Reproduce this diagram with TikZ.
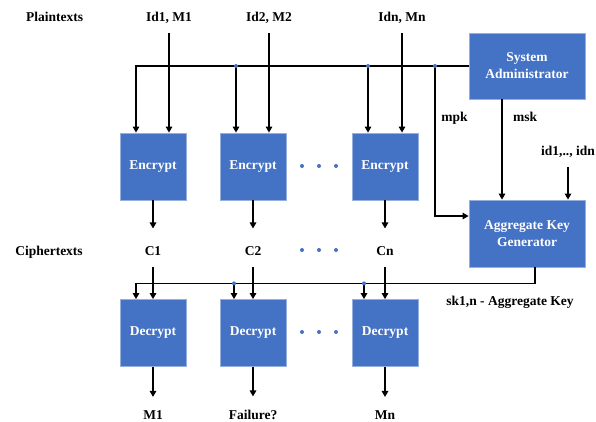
\documentclass[tikz,border=0pt]{standalone}
\usepackage{fontspec}
\setmainfont{Liberation Serif}
\usetikzlibrary{arrows.meta}
\definecolor{boxblue}{RGB}{68,114,196}
\definecolor{boxedge}{RGB}{150,176,222}
\tikzset{
  blk/.style={fill=boxblue, draw=boxedge, line width=0.8pt, text=white,
    font=\bfseries\fontsize{13.5}{17}\selectfont, align=center,
    minimum width=66pt, minimum height=67pt, inner sep=0pt},
  wblk/.style={blk, minimum width=116pt},
  lbl/.style={font=\bfseries\fontsize{13.5}{17}\selectfont, inner sep=0pt, anchor=base},
  arr/.style={line width=1.4pt, -{Triangle[length=6pt,width=6.5pt]}},
  jdot/.style={fill=boxblue, draw=none},
}
\begin{document}
\begin{tikzpicture}[x=1pt,y=-1pt]
\useasboundingbox (0,0) rectangle (596,421);

% boxes
\node[blk] (E1) at (153,166.5) {Encrypt};
\node[blk] (E2) at (253,166.5) {Encrypt};
\node[blk] (E3) at (385,166.5) {Encrypt};
\node[blk] (D1) at (153,333) {Decrypt};
\node[blk] (D2) at (253,333) {Decrypt};
\node[blk] (D3) at (385,333) {Decrypt};
\node[wblk, minimum height=66pt] (SA) at (527,66) {System\\Administrator};
\node[wblk] (AKG) at (527,233.5) {Aggregate Key\\Generator};

% labels
\node[lbl] (pt) at (54.5,21.5) {Plaintexts};
\node[lbl] (in1) at (169,21.5) {Id1, M1};
\node[lbl] (in2) at (269,21.5) {Id2, M2};
\node[lbl] (in3) at (402,21.5) {Idn, Mn};
\node[lbl] (ct) at (49,255) {Ciphertexts};
\node[lbl] (C1) at (153,255) {C1};
\node[lbl] (C2) at (253,255) {C2};
\node[lbl] (C3) at (385,255) {Cn};
\node[lbl] (mpk) at (454.5,121) {mpk};
\node[lbl] (msk) at (525,121) {msk};
\node[lbl] (idl) at (568,155.5) {id1,.., idn};
\node[lbl] (skl) at (510,305.5) {sk1,n - Aggregate Key};
\node[lbl] (o1) at (153,419) {M1};
\node[lbl] (o2) at (253,419) {Failure?};
\node[lbl] (o3) at (385,419) {Mn};

% junctions
\coordinate (j2) at ([xshift=-17pt]E2.north |- SA.west);
\coordinate (j3) at ([xshift=-17pt]E3.north |- SA.west);
\coordinate (jm) at (435,66);
\coordinate (kbus) at ([xshift=8pt,yshift=-16pt]AKG.south);
\coordinate (k2) at ([xshift=-19pt]D2.north |- kbus);
\coordinate (k3) at ([xshift=-21pt]D3.north |- kbus);

% top bus
\draw[arr] (SA.west) -| ([xshift=-17pt]E1.north);
\draw[arr] (j2) -- ([xshift=-17pt]E2.north);
\draw[arr] (j3) -- ([xshift=-17pt]E3.north);
\draw[arr] ([yshift=-9.5pt]in1.south) -- (in1.south |- E1.north);
\draw[arr] ([yshift=-9.5pt]in2.south) -- (in2.south |- E2.north);
\draw[arr] ([yshift=-9.5pt]in3.south) -- (in3.south |- E3.north);

% keys
\draw[arr] (jm) |- ([yshift=17.5pt]AKG.west);
\draw[arr] ([xshift=-25pt]SA.south) -- ([xshift=-25pt]AKG.north);
\draw[arr] ([yshift=-9pt]idl.south) -- (idl.south |- AKG.north);

% encrypt -> ciphertexts
\draw[arr] (E1.south) -- ([yshift=17.4pt]C1.north);
\draw[arr] (E2.south) -- ([yshift=17.4pt]C2.north);
\draw[arr] (E3.south) -- ([yshift=17.4pt]C3.north);

% ciphertexts -> decrypt
\draw[arr] ([yshift=-12pt]C1.south) -- (D1.north);
\draw[arr] ([yshift=-12pt]C2.south) -- (D2.north);
\draw[arr] ([yshift=-12pt]C3.south) -- (D3.north);

% aggregate key bus
\draw[arr] ([xshift=8pt]AKG.south) -- (kbus) -| ([xshift=-17pt]D1.north);
\draw[arr] (k2) -- ([xshift=-19pt]D2.north);
\draw[arr] (k3) -- ([xshift=-21pt]D3.north);

% decrypt -> outputs
\draw[arr] (D1.south) -- ([yshift=13pt]o1.north);
\draw[arr] (D2.south) -- ([yshift=13pt]o2.north);
\draw[arr] (D3.south) -- ([yshift=13pt]o3.north);

% junction dots
\foreach \p in {j2,j3,jm,k2,k3} \fill[jdot] (\p) circle (2pt);

% ellipsis dots
\foreach \yy in {166,250,332}
  \foreach \xx in {302,319,336}
    \fill[jdot] (\xx,\yy) circle (2pt);
\end{tikzpicture}
\end{document}
